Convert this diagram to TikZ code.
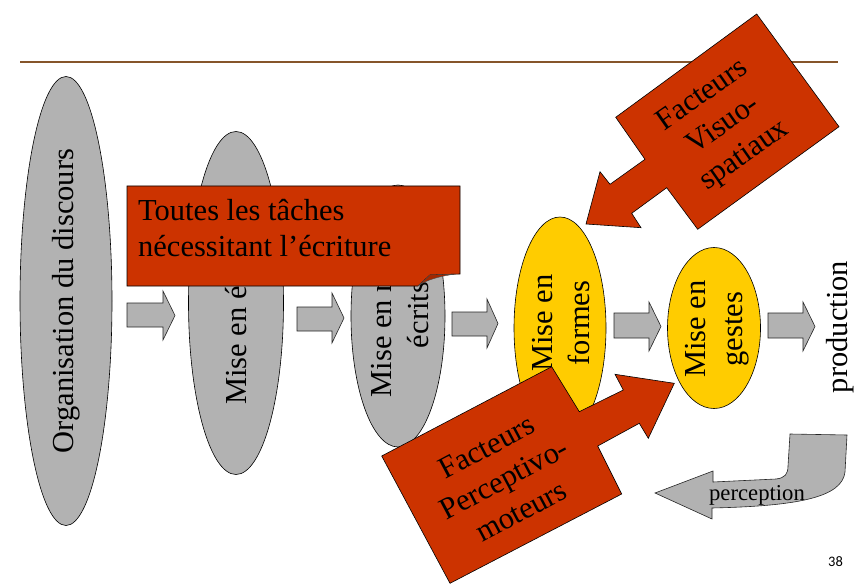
\documentclass[tikz,border=0pt]{standalone}
\usepackage{fontspec}
\setmainfont{Liberation Serif}
\newfontfamily\calibfnt{Carlito}
\usetikzlibrary{shapes.geometric}
\definecolor{cred}{HTML}{CC3300}
\definecolor{cgray}{HTML}{B2B2B2}
\definecolor{cyel}{HTML}{FFCC00}
\definecolor{cline}{HTML}{86552A}
\definecolor{cfold}{HTML}{A32800}
\newcommand\bigfnt{\fontsize{30.5bp}{36.5bp}\selectfont}
\newcommand\barrow[7]{\draw[barrowst] (#1,#3) -- (#7,#3) -- (#7,#5) -- (#2,{(#5+#6)/2}) -- (#7,#6) -- (#7,#4) -- (#1,#4) -- cycle;}
\begin{document}
\begin{tikzpicture}[x=1bp,y=-1bp,
  ell/.style={ellipse, draw=black, line width=0.6bp, inner sep=0pt},
  grayell/.style={ell, fill=cgray},
  yelell/.style={ell, fill=cyel},
  barrowst/.style={fill=cgray, draw=black!85, line width=0.6bp, line join=miter},
  callout/.style={fill=cred, draw=black, line width=0.6bp},
  lbl/.style={inner sep=0pt, align=center, font=\bigfnt}]
\useasboundingbox (0,0) rectangle (863,584);
% top rule
\draw[cline, line width=2bp] (20,62) -- (838,62);
% ellipses
\node[grayell, minimum width=92bp, minimum height=449bp] (e1) at (66,301) {};
\node[grayell, minimum width=95bp, minimum height=343bp] (e2) at (236,303) {};
\node[grayell, minimum width=94bp, minimum height=262bp] (e3) at (398,316) {};
\node[yelell, minimum width=92bp, minimum height=222bp] (e4) at (560,328) {};
\node[yelell, minimum width=93bp, minimum height=161bp] (e5) at (714,328) {};
\node[lbl, rotate=90] (t1) at (e1.center) {Organisation du discours};
\node[lbl, rotate=90] (t2) at (e2.center) {Mise en énoncés};
\node[lbl, rotate=90] (t3) at (400,315) {Mise en mots\\écrits};
\node[lbl, rotate=90] (t4) at (561,323) {Mise en\\formes};
\node[lbl, rotate=90] (t5) at (717,329) {Mise en\\gestes};
\node[lbl, rotate=90] (t6) at (840,327) {production};
% small block arrows
\barrow{127}{175}{303}{327}{291}{340}{163}
\barrow{297}{344}{307}{331}{293}{343}{332}
\barrow{452}{498}{312}{336}{299}{348}{487}
\barrow{614}{661}{313}{338}{302}{351}{649}
\barrow{768}{815}{313}{338}{302}{351}{803}
% callout rectangle
\draw[callout] (127,186) -- (460,186) -- (460,274) -- (430,275) -- (418,286) -- (127,286) -- cycle;
\draw[fill=cfold, draw=black!70, line width=0.4bp] (418,286) -- (430,275) -- (456,274) .. controls (440,276) and (426,280) .. (418,286) -- cycle;
\node[lbl, anchor=base west] (ta) at (138,221) {Toutes les tâches};
\node[lbl, anchor=base west] (tb) at (138,257) {nécessitant l’écriture};
% top callout arrow
\draw[callout] (756.7,14) -- (839,126.7) -- (697.7,229.3) -- (666.7,187.7) -- (631.7,213.3) -- (641,227.7) -- (586,224) -- (600,171.7) -- (610,184.3) -- (645,159.3) -- (615.7,117.3) -- cycle;
\node[lbl, rotate=35] (tv) at (724,126) {Facteurs\\Visuo-\\spatiaux};
% bottom callout arrow
\draw[callout] (381.7,456) -- (551.7,366.7) -- (579.3,411.7) -- (623.3,390) -- (615,374.3) -- (674.3,383.3) -- (648.3,438.3) -- (639.3,423.3) -- (597.7,446) -- (621.7,494) -- (450,583.3) -- cycle;
\node[lbl, rotate=28] (tp) at (504,479) {Facteurs\\Perceptivo-\\moteurs};
% perception U-turn arrow
\draw[barrowst] (790,434) -- (847,435) -- (845,472) .. controls (842,497) and (800,506) .. (712,508) -- (712,519) -- (655,493) -- (713,471) -- (713,482) -- (776,479) .. controls (785,478) and (788,474) .. (788,466) -- cycle;
\node[inner sep=0pt, anchor=base, font=\fontsize{22.7bp}{27bp}\selectfont] (tperc) at (757,500) {perception};
% page number
\node[inner sep=0pt, anchor=base, font=\calibfnt\fontsize{14.5bp}{17bp}\selectfont] (pg) at (835.5,566) {38};
\end{tikzpicture}
\end{document}
